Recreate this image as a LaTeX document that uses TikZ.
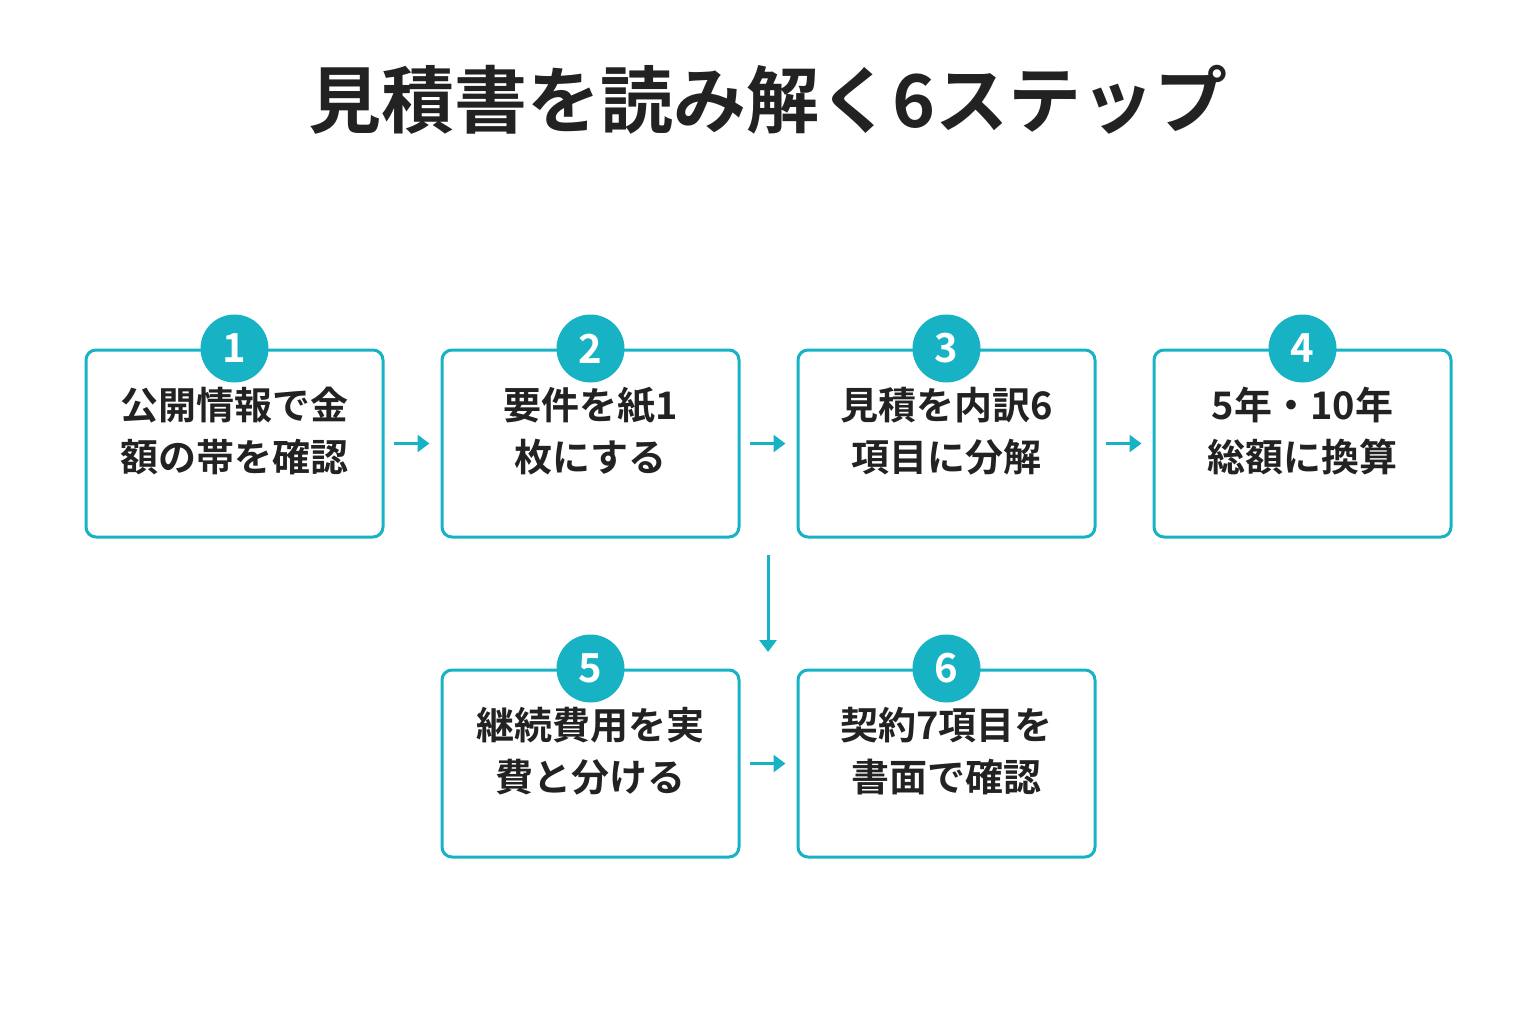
\documentclass[tikz,border=0pt]{standalone}
\usepackage{fontspec}
\setmainfont{Noto Sans CJK JP}[BoldFont={Noto Sans CJK JP Bold}]
\usetikzlibrary{positioning,arrows.meta}
\definecolor{teal}{HTML}{17B3C5}
\definecolor{ink}{HTML}{222222}
\tikzset{
  stepbox/.style={draw=teal, line width=3pt, rounded corners=10pt, minimum width=297pt,
    minimum height=187pt, text=ink},
  steptext/.style={align=center, text=ink, font=\bfseries\fontsize{38}{52}\selectfont},
  num/.style={circle, fill=teal, minimum size=68pt, inner sep=0pt, text=white,
    font=\bfseries\fontsize{40}{40}\selectfont},
  flow/.style={draw=teal, line width=3pt, -{Triangle[length=12pt,width=17pt]}}
}
\begin{document}
\begin{tikzpicture}[x=1pt,y=-1pt]
\useasboundingbox (0,0) rectangle (1536,1024);
\node [font=\bfseries\fontsize{73}{73}\selectfont, text=ink] (title) at (768,100) {見積書を読み解く6ステップ};
% first row
\node [stepbox] (s1) at (234.5,443.5) {};
\node [stepbox] (s2) at (590.5,443.5) {};
\node [stepbox] (s3) at (946.5,443.5) {};
\node [stepbox] (s4) at (1302.5,443.5) {};
% second row
\node [stepbox] (s5) at (590.5,763.5) {};
\node [stepbox] (s6) at (946.5,763.5) {};
% texts
\node [steptext] (t1) at ([yshift=12pt]s1.center) {公開情報で金\\額の帯を確認};
\node [steptext] (t2) at ([yshift=12pt]s2.center) {要件を紙1\\枚にする};
\node [steptext] (t3) at ([yshift=12pt]s3.center) {見積を内訳6\\項目に分解};
\node [steptext] (t4) at ([yshift=12pt]s4.center) {5年・10年\\総額に換算};
\node [steptext] (t5) at ([yshift=12pt]s5.center) {継続費用を実\\費と分ける};
\node [steptext] (t6) at ([yshift=12pt]s6.center) {契約7項目を\\書面で確認};
% numbers
\foreach \s/\n in {s1/1,s2/2,s3/3,s4/4,s5/5,s6/6}
  \node [num] (n\n) at (\s.north) {\n};
% arrows
\draw [flow, shorten <=9pt, shorten >=11pt] (s1) -- (s2);
\draw [flow, shorten <=9pt, shorten >=11pt] (s2) -- (s3);
\draw [flow, shorten <=9pt, shorten >=11pt] (s3) -- (s4);
\draw [flow, shorten <=9pt, shorten >=11pt] (s5) -- (s6);
\coordinate (d1) at (768,555);
\coordinate (d2) at (768,652);
\draw [flow] (d1) -- (d2);
\end{tikzpicture}
\end{document}
